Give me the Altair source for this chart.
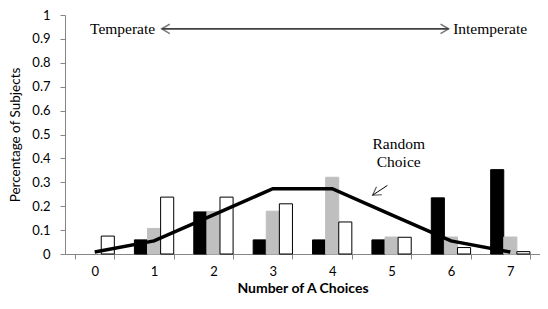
import altair as alt
import pandas as pd

categories = [0, 1, 2, 3, 4, 5, 6, 7]
series_names = ["black", "gray", "white"]
black_vals = [0.0, 0.059, 0.176, 0.059, 0.059, 0.059, 0.235, 0.353]
gray_vals = [0.0, 0.107, 0.178, 0.179, 0.321, 0.071, 0.071, 0.071]
white_vals = [0.075, 0.238, 0.238, 0.21, 0.134, 0.07, 0.027, 0.01]
random_choice = [0.008, 0.055, 0.164, 0.273, 0.273, 0.164, 0.055, 0.008]
y_ticks = [0, 0.1, 0.2, 0.3, 0.4, 0.5, 0.6, 0.7, 0.8, 0.9, 1]

rows = []
for name, vals in zip(series_names, [black_vals, gray_vals, white_vals]):
    for c, v in zip(categories, vals):
        if v > 0:
            rows.append({"cat": c, "series": name, "value": v})
bars_df = pd.DataFrame(rows)
line_df = pd.DataFrame({"cat": categories, "value": random_choice})

# annotations in data coordinates (x: continuous category position)
text_df = pd.DataFrame({
    "label": ["Temperate", "Intemperate", "Random", "Choice"],
    "xq": [0.47, 6.66, 5.12, 5.12],
    "yv": [0.942, 0.942, 0.459, 0.385],
})
arrow_lines = pd.DataFrame({
    "x1": [1.13, 4.93], "x2": [5.96, 4.68],
    "y1": [0.942, 0.287], "y2": [0.942, 0.246],
    "kind": ["h", "d"],
})
arrow_heads = pd.DataFrame({
    "xq": [1.13, 5.96, 4.68],
    "yv": [0.942, 0.942, 0.246],
    "ang": [180, 0, 146],
    "kind": ["h", "h", "d"],
})

FONT = "Lato"
SERIF = "Liberation Serif"
AX = "#868686"

xscale = alt.Scale(paddingInner=0.338, paddingOuter=0.169)
yscale = alt.Scale(domain=[0, 1])

x_axis = alt.Axis(
    title="Number of A Choices", titleFont=FONT, titleFontSize=14, titleFontWeight="bold",
    titleColor="black", titlePadding=3, labelAngle=0, labelFont=FONT, labelFontSize=13,
    labelColor="black", labelPadding=6, tickBand="extent", domainColor=AX, tickColor=AX,
    tickSize=5, grid=False,
)
y_axis = alt.Axis(
    title="Percentage of Subjects", titleFont=FONT, titleFontSize=13.5, titleFontWeight="normal",
    titleColor="black", titlePadding=9, values=y_ticks, format=".1~f", labelFont=FONT,
    labelFontSize=13, labelColor="black", labelPadding=10, domainColor=AX, tickColor=AX,
    tickSize=5, grid=False, labelOverlap=False,
)

bars = alt.Chart(bars_df).mark_bar(strokeWidth=1).encode(
    x=alt.X("cat:O", scale=xscale, axis=x_axis),
    xOffset=alt.XOffset("series:N", scale=alt.Scale(domain=series_names, paddingInner=0, paddingOuter=0)),
    y=alt.Y("value:Q", scale=yscale, axis=y_axis),
    fill=alt.Fill("series:N", scale=alt.Scale(domain=series_names, range=["black", "#bfbfbf", "white"]), legend=None),
    stroke=alt.Stroke("series:N", scale=alt.Scale(domain=series_names, range=["black", "#bfbfbf", "black"]), legend=None),
)

line = alt.Chart(line_df).mark_line(color="black", strokeWidth=3.5).encode(
    x=alt.X("cat:O", scale=xscale, axis=x_axis),
    y=alt.Y("value:Q", scale=yscale, axis=y_axis),
)

main = alt.layer(bars, line)

qx = alt.Scale(domain=[-0.5, 7.5], nice=False, zero=False)

texts = alt.Chart(text_df).mark_text(font=SERIF, fontSize=15.5, color="black", baseline="middle").encode(
    x=alt.X("xq:Q", scale=qx, axis=None),
    y=alt.Y("yv:Q", scale=yscale, axis=y_axis),
    text="label:N",
)

rules = alt.Chart(arrow_lines).mark_rule().encode(
    x=alt.X("x1:Q", scale=qx, axis=None),
    x2="x2:Q",
    y=alt.Y("y1:Q", scale=yscale, axis=y_axis),
    y2="y2:Q",
    color=alt.Color("kind:N", scale=alt.Scale(domain=["h", "d"], range=["#404040", "black"]), legend=None),
    strokeWidth=alt.StrokeWidth("kind:N", scale=alt.Scale(domain=["h", "d"], range=[1.6, 1.0]), legend=None),
)

heads = alt.Chart(arrow_heads).mark_point(
    shape="M-1,-0.6L0,0L-1,0.6", filled=False, size=256,
).encode(
    x=alt.X("xq:Q", scale=qx, axis=None),
    y=alt.Y("yv:Q", scale=yscale, axis=y_axis),
    angle=alt.Angle("ang:Q", scale=None),
    color=alt.Color("kind:N", scale=alt.Scale(domain=["h", "d"], range=["#404040", "black"]), legend=None),
    strokeWidth=alt.StrokeWidth("kind:N", scale=alt.Scale(domain=["h", "d"], range=[1.6, 1.0]), legend=None),
)

chart = alt.layer(main, texts, rules, heads).resolve_scale(
    x="independent", color="independent", strokeWidth="independent"
).properties(
    width=475, height=239,
    padding={"left": 57, "top": 7, "right": 0, "bottom": 41},
    autosize=alt.AutoSizeParams(type="none"),
).configure_view(stroke=None)

chart.save("out.html", embed_options={"renderer": "svg", "actions": False})
